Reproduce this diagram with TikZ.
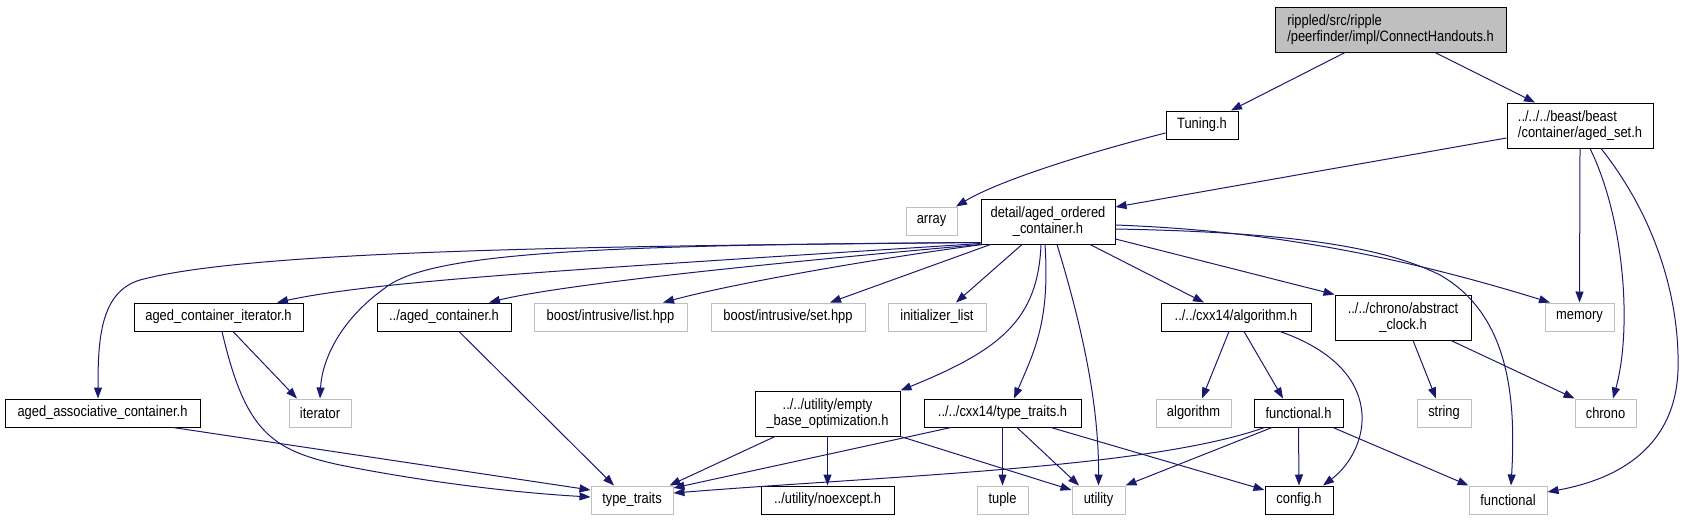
\documentclass[tikz,border=0pt]{standalone}
\usepackage{fontspec}
\newfontfamily\doxf[FakeStretch=0.86]{Liberation Sans}
\usetikzlibrary{arrows.meta,calc}
\definecolor{edgeblue}{HTML}{191970}
\definecolor{sysgray}{HTML}{BFBFBF}
\definecolor{rootfill}{HTML}{BFBFBF}
\tikzset{
  nd/.style={draw=black, line width=1pt, inner sep=0pt, minimum height=28pt, align=center,
    font={\doxf\fontsize{15}{16.7}\selectfont}},
  sys/.style={nd, draw=sysgray},
  edge/.style={draw=edgeblue, line width=1pt, -{Triangle[length=11pt,width=8pt]}},
}
\begin{document}
\begin{tikzpicture}[x=1pt,y=-1pt]
\useasboundingbox (0,0) rectangle (1685,520);
% nodes
\node[nd, fill=rootfill, minimum width=231pt, minimum height=45pt, align=left] (root) at (1390.5,29.5) {rippled/src/ripple\\/peerfinder/impl/ConnectHandouts.h};
\node[nd, minimum width=72pt] (tuning) at (1202,125) {Tuning.h};
\node[nd, minimum width=146pt, minimum height=45pt, align=left] (agedset) at (1580,125.5) {../../../beast/beast\\/container/aged\_set.h};
\node[sys, minimum width=51pt] (array) at (931.5,221) {array};
\node[nd, minimum width=134pt, minimum height=45pt] (aoc) at (1048,221.5) {detail/aged\_ordered\\\_container.h};
\node[nd, minimum width=169pt] (aci) at (218.5,317) {aged\_container\_iterator.h};
\node[nd, minimum width=134pt] (agedcont) at (444,317) {../aged\_container.h};
\node[sys, minimum width=153pt] (list) at (610.5,317) {boost/intrusive/list.hpp};
\node[sys, minimum width=154pt] (set) at (788,317) {boost/intrusive/set.hpp};
\node[sys, minimum width=98pt] (initlist) at (937,317) {initializer\_list};
\node[nd, minimum width=150pt] (algoh) at (1236,317) {../../cxx14/algorithm.h};
\node[nd, minimum width=136pt, minimum height=45pt] (absclock) at (1403,317.5) {../../chrono/abstract\\\_clock.h};
\node[sys, minimum width=69pt] (memory) at (1579.5,317) {memory};
\node[nd, minimum width=195pt] (aac) at (102.5,413) {aged\_associative\_container.h};
\node[sys, minimum width=62pt] (iterator) at (320,413) {iterator};
\node[nd, minimum width=145pt, minimum height=45pt] (ebo) at (827.5,413.5) {../../utility/empty\\\_base\_optimization.h};
\node[nd, minimum width=157pt] (ttx) at (1002.5,413) {../../cxx14/type\_traits.h};
\node[sys, minimum width=75pt] (algorithm) at (1193.5,413) {algorithm};
\node[nd, minimum width=89pt] (funch) at (1298.5,413) {functional.h};
\node[sys, minimum width=54pt] (string) at (1444,413) {string};
\node[sys, minimum width=61pt] (chrono) at (1605.5,413) {chrono};
\node[sys, minimum width=82pt] (typetraits) at (632,500) {type\_traits};
\node[nd, minimum width=133pt] (noexcept) at (827.5,500) {../utility/noexcept.h};
\node[sys, minimum width=51pt] (tuple) at (1002.5,500) {tuple};
\node[sys, minimum width=53pt] (utility) at (1098.5,500) {utility};
\node[nd, minimum width=68pt] (config) at (1299,500) {config.h};
\node[sys, minimum width=78pt] (functional) at (1508,500) {functional};
% edges
\draw[edge] ([xshift=-45.5pt]root.south) -- ([xshift=29pt]tuning.north);
\draw[edge] ([xshift=44.5pt]root.south) -- ([xshift=-45pt]agedset.north);
\draw[edge] ([yshift=-8pt]tuning.west) .. controls (1090,152) and (1000,180) .. ([xshift=24.5pt]array.north);
\draw[edge] ([yshift=-12.5pt]agedset.west) -- ([yshift=14.5pt]aoc.east);
\draw[edge] (agedset.south) -- (memory.north);
\draw[edge] ([xshift=10pt]agedset.south) .. controls (1625,220) and (1632,330) .. ([xshift=7.5pt]chrono.north);
\draw[edge] ([xshift=21pt]agedset.south) .. controls (1650,210) and (1680,290) .. (1678,370) .. controls (1676,430) and (1640,475) .. ([yshift=8pt]functional.east);
% from aged_ordered_container
\draw[edge] ([yshift=2pt]aoc.south west) .. controls (600,246) and (250,250) .. (140,280) .. controls (100,292) and (98,340) .. ([xshift=-4.5pt]aac.north);
\draw[edge] ([yshift=2pt]aoc.south west) .. controls (600,245) and (430,252) .. (385,288) .. controls (340,320) and (322,360) .. (iterator.north);
\draw[edge] ([yshift=1pt]aoc.south west) .. controls (600,268) and (380,280) .. ([xshift=58.5pt]aci.north);
\draw[edge] (aoc.south west) .. controls (750,265) and (560,285) .. ([xshift=45pt]agedcont.north);
\draw[edge] ([xshift=2pt]aoc.south west) .. controls (880,258) and (740,282) .. ([xshift=52.5pt]list.north);
\draw[edge] ([xshift=10pt]aoc.south west) -- ([xshift=42pt]set.north);
\draw[edge] ([xshift=-26pt]aoc.south) -- ([xshift=19pt]initlist.north);
\draw[edge] ([xshift=-7pt]aoc.south) .. controls (1038,320) and (1000,350) .. (ebo.north east);
\draw[edge] ([xshift=-3pt]aoc.south) .. controls (1050,320) and (1035,350) .. ([xshift=11.5pt]ttx.north);
\draw[edge] ([xshift=9pt]aoc.south) .. controls (1080,320) and (1099,400) .. (utility.north);
\draw[edge] ([xshift=42pt]aoc.south) -- ([xshift=-32pt]algoh.north);
\draw[edge] ([yshift=-17.5pt]aoc.east) -- (absclock.north west);
\draw[edge] ([yshift=-3.5pt]aoc.east) .. controls (1250,230) and (1380,250) .. ([xshift=-29.5pt]memory.north);
\draw[edge] ([yshift=-7.5pt]aoc.east) .. controls (1280,232) and (1380,245) .. (1440,275) .. controls (1510,315) and (1516,400) .. ([xshift=3pt]functional.north);
% second level
\draw[edge] ([xshift=14.5pt]aci.south) -- ([xshift=-23pt]iterator.north);
\draw[edge] ([xshift=3.5pt]aci.south) .. controls (245,430) and (270,450) .. (340,465) .. controls (430,483) and (520,493) .. ([yshift=3pt]typetraits.west);
\draw[edge] ([xshift=70.5pt]aac.south) -- ([yshift=10pt]typetraits.west);
\draw[edge] ([xshift=15pt]agedcont.south) -- ([xshift=-18pt]typetraits.north);
\draw[edge] ([xshift=-52.5pt]ebo.south) -- ([xshift=-4pt]typetraits.north east);
\draw[edge] (ebo.south) -- (noexcept.north);
\draw[edge] (ebo.south east) -- ([yshift=10pt]utility.west);
\draw[edge] ([xshift=-51.5pt]ttx.south) -- ([yshift=12pt]typetraits.east);
\draw[edge] (ttx.south) -- (tuple.north);
\draw[edge] ([xshift=14.5pt]ttx.south) -- ([xshift=-19.5pt]utility.north);
\draw[edge] ([xshift=48.5pt]ttx.south) -- ([yshift=10pt]config.west);
\draw[edge] ([xshift=-34pt]funch.south) .. controls (1150,468) and (900,475) .. ([yshift=7pt]typetraits.east);
\draw[edge] ([xshift=-26.5pt]funch.south) -- (utility.north east);
\draw[edge] (funch.south) -- (config.north);
\draw[edge] ([xshift=34.5pt]funch.south) -- (functional.north west);
\draw[edge] ([xshift=-7pt]algoh.south) -- ([xshift=8.5pt]algorithm.north);
\draw[edge] ([xshift=8pt]algoh.south) -- ([xshift=-15.5pt]funch.north);
\draw[edge] ([xshift=44pt]algoh.south) .. controls (1390,370) and (1370,450) .. ([xshift=24pt]config.north);
\draw[edge] ([xshift=10pt]absclock.south) -- ([xshift=-8pt]string.north);
\draw[edge] ([xshift=48pt]absclock.south) -- (chrono.north west);
\end{tikzpicture}
\end{document}
